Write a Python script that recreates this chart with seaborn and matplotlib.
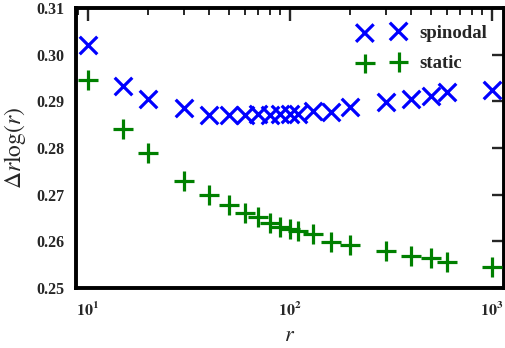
import matplotlib
matplotlib.use("Agg")
import matplotlib.pyplot as plt
import seaborn as sns
import pandas as pd
from matplotlib.ticker import LogLocator, NullFormatter, FuncFormatter
import numpy as np

r_values = [10, 15, 20, 30, 40, 50, 60, 70, 80, 90, 100, 110, 130, 160, 200, 300, 400, 500, 600, 1000]
spinodal = [0.3020, 0.2933, 0.2906, 0.2886, 0.2871, 0.2871, 0.2871, 0.2873, 0.2871, 0.2872,
            0.2874, 0.2872, 0.2880, 0.2878, 0.2888, 0.2898, 0.2905, 0.2911, 0.2921, 0.2925]
static = [0.2946, 0.2840, 0.2789, 0.2729, 0.2699, 0.2679, 0.2662, 0.2653, 0.2640, 0.2632,
          0.2627, 0.2623, 0.2615, 0.2599, 0.2592, 0.2580, 0.2568, 0.2564, 0.2556, 0.2545]
y_ticks = [0.25, 0.26, 0.27, 0.28, 0.29, 0.30, 0.31]

sns.set_style("white")
plt.rcParams["font.family"] = ["Liberation Serif", "DejaVu Serif"]
plt.rcParams["mathtext.fontset"] = "stix"

df_sp = pd.DataFrame({"r": r_values, "v": spinodal})
df_st = pd.DataFrame({"r": r_values, "v": static})

fig = plt.figure(figsize=(5.06, 3.48), dpi=100)
ax = fig.add_axes([0.150, 0.172, 0.846, 0.805])

sns.scatterplot(data=df_sp, x="r", y="v", marker="x", s=160, color="#0000FF",
                linewidth=2.3, label="spinodal", ax=ax, zorder=3)
sns.scatterplot(data=df_st, x="r", y="v", marker="+", s=200, color="#008000",
                linewidth=2.3, label="static", ax=ax, zorder=3)

ax.set_xscale("log")
ax.set_xlim(8.75, 1150)
ax.set_ylim(0.25, 0.31)
ax.set_yticks(y_ticks)
ax.set_yticklabels([f"{t:.2f}" for t in y_ticks])
ax.xaxis.set_major_locator(LogLocator(base=10, numticks=10))
ax.xaxis.set_major_formatter(FuncFormatter(lambda v, p: r"$\mathbf{10^{%d}}$" % int(round(np.log10(v)))))
ax.xaxis.set_minor_locator(LogLocator(base=10, subs=range(2, 10), numticks=20))
ax.xaxis.set_minor_formatter(NullFormatter())

for s in ax.spines.values():
    s.set_linewidth(2.8)
    s.set_color("black")
ax.tick_params(which="major", direction="in", length=9, width=1.7, top=True, right=True,
               labelsize=11.5)
ax.tick_params(axis="x", which="major", pad=10)
ax.tick_params(axis="y", which="major", pad=8)
ax.tick_params(which="minor", direction="in", length=5, width=1.4, top=True, right=True)
for lab in ax.get_yticklabels():
    lab.set_fontweight("bold")

ax.set_xlabel(r"$r$", fontsize=16, labelpad=5)
ax.set_ylabel(r"$\Delta r\log(r)$", fontsize=17, labelpad=6)

leg = ax.legend(loc="upper right", frameon=False, scatterpoints=2,
                handletextpad=0.8, borderaxespad=0.5, borderpad=0.4, labelspacing=0.7,
                handlelength=2.4, prop={"weight": "bold", "size": 13.5})

fig.savefig("out.png", dpi=100)
